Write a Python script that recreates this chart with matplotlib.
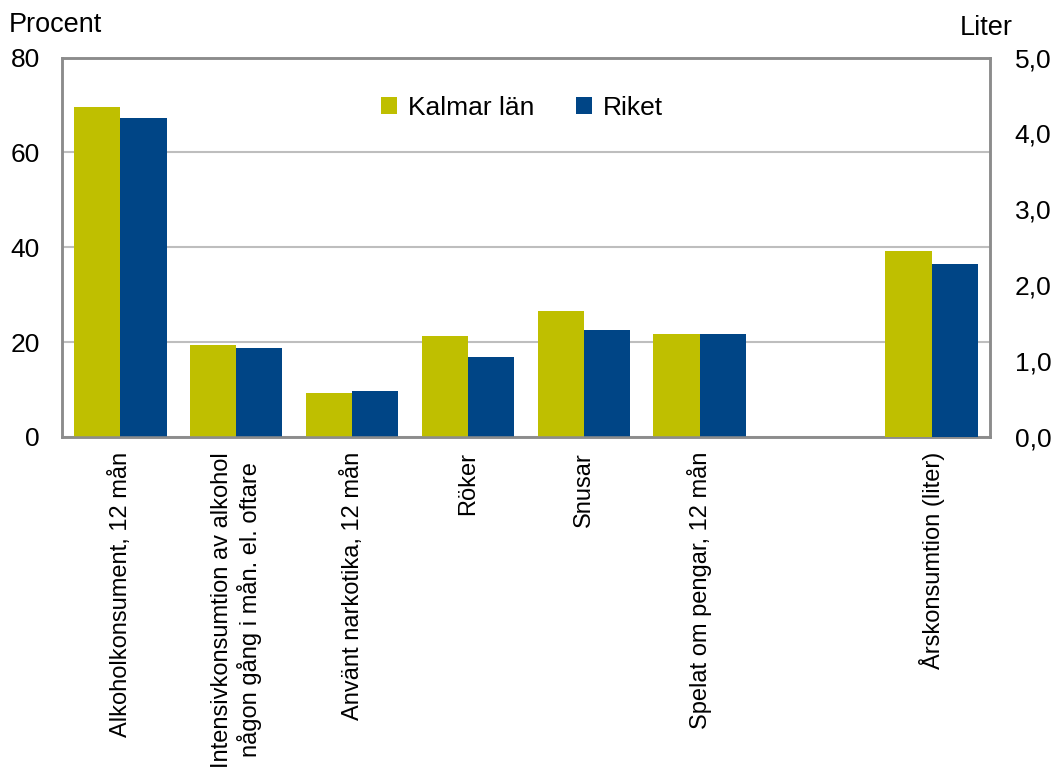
from matplotlib import pyplot as plt
from matplotlib.ticker import FuncFormatter
import numpy as np

plt.rcParams['font.family'] = ['Liberation Sans', 'DejaVu Sans']

kategorier = ['Alkoholkonsument, 12 mån',
              'Intensivkonsumtion av alkohol\nnågon gång i mån. el. oftare',
              'Använt narkotika, 12 mån',
              'Röker',
              'Snusar',
              'Spelat om pengar, 12 mån',
              '',
              'Årskonsumtion (liter)']

# procent (vänster axel)
kalmar_procent = [69.6, 19.3, 9.2, 21.2, 26.6, 21.7]
riket_procent = [67.2, 18.7, 9.6, 16.8, 22.5, 21.7]
# liter (höger axel)
kalmar_liter = [2.45]
riket_liter = [2.28]

serier = ['Kalmar län', 'Riket']
gul = '#BFBF00'
bla = '#004586'
gra = '#8C8C8C'

fig = plt.figure(figsize=(10.54, 7.69), dpi=100)
ax = fig.add_subplot(111)
plt.subplots_adjust(left=0.059, right=0.939, top=0.925, bottom=0.432)
ax2 = ax.twinx()

w = 0.4
x = np.arange(len(kategorier))
xp = x[:len(kalmar_procent)]
xl = x[-len(kalmar_liter):]

ax.bar(xp - w/2, kalmar_procent, width=w, color=gul, label=serier[0], zorder=3)
ax.bar(xp + w/2, riket_procent, width=w, color=bla, label=serier[1], zorder=3)
ax2.bar(xl - w/2, kalmar_liter, width=w, color=gul, zorder=3)
ax2.bar(xl + w/2, riket_liter, width=w, color=bla, zorder=3)

ax.set_xlim(-0.5, len(kategorier) - 0.5)
ax.set_ylim(0, 80)
ax.set_yticks([0, 20, 40, 60, 80])
ax2.set_ylim(0, 5)
ax2.set_yticks([0, 1, 2, 3, 4, 5])
ax2.yaxis.set_major_formatter(FuncFormatter(lambda v, p: ('%.1f' % v).replace('.', ',')))

ax.set_xticks(x)
ax.set_xticklabels(kategorier, rotation=90, fontsize=17)
ax.tick_params(axis='x', length=0, pad=11)
ax.tick_params(axis='y', length=0, pad=16, labelsize=19)
ax2.tick_params(axis='y', length=0, pad=18, labelsize=19)

ax.yaxis.grid(True, color='#BEBEBE', linewidth=1.5, zorder=0)
ax.set_axisbelow(True)
for a in (ax, ax2):
    for s in a.spines.values():
        s.set_color(gra)
        s.set_linewidth(1.8)

ax.legend(loc='center', bbox_to_anchor=(0.496, 0.868), ncol=2, frameon=False,
          fontsize=19, handlelength=0.6, handleheight=0.6, handletextpad=0.4,
          columnspacing=1.6)

fig.text(0.008, 0.967, 'Procent', fontsize=19.5, va='center')
fig.text(0.911, 0.964, 'Liter', fontsize=19.5, va='center')

plt.savefig('out.png', dpi=100)
